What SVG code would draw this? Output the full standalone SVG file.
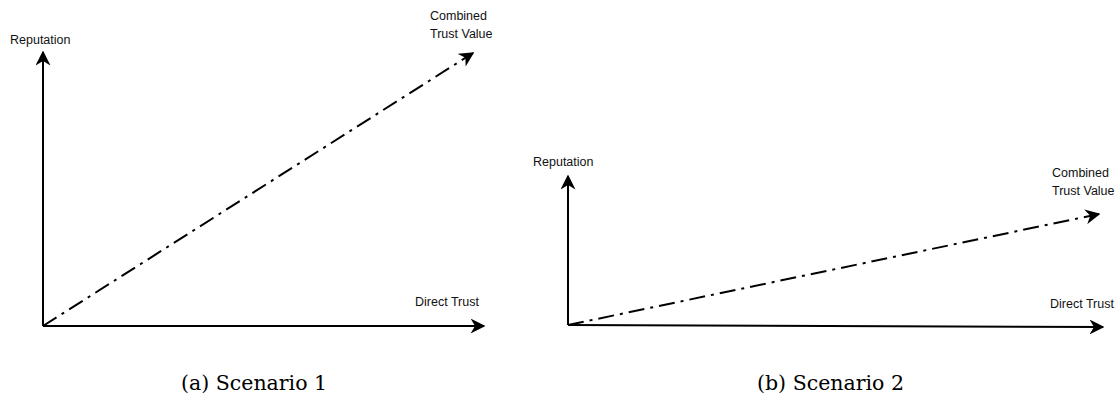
<svg xmlns="http://www.w3.org/2000/svg" width="1118" height="407" viewBox="0 0 1118 407">
  <style>
    .axis { stroke: #000; stroke-width: 2; fill: none; }
    .combo { stroke: #000; stroke-width: 2; fill: none; stroke-dasharray: 16 6 3 6; }
    .lbl { font-family: "Liberation Sans", Arial, sans-serif; font-size: 12.5px; fill: #111; }
    .cap { font-family: "DejaVu Serif", "Liberation Serif", serif; font-size: 20.5px; fill: #000; }
  </style>
  <defs>
    <marker id="head" viewBox="0 0 10 10" refX="9" refY="5" markerWidth="7.5" markerHeight="7.5" markerUnits="strokeWidth" orient="auto">
      <path d="M0,0 L10,5 L0,10 L3,5 Z" fill="#000"/>
    </marker>
  </defs>

  <!-- panel (a) -->
  <g id="panel-a">
    <g id="a-connectors">
      <line class="axis" x1="43" y1="326" x2="43" y2="52" marker-end="url(#head)"/>
      <line class="axis" x1="43" y1="326" x2="484" y2="326" marker-end="url(#head)"/>
      <line class="combo" x1="43" y1="326" x2="473" y2="53" marker-end="url(#head)"/>
    </g>
    <g id="a-reputation"><text class="lbl" x="10" y="44">Reputation</text></g>
    <g id="a-combined">
      <text class="lbl" x="430" y="20">Combined</text>
      <text class="lbl" x="430" y="38">Trust Value</text>
    </g>
    <g id="a-direct"><text class="lbl" x="415" y="306">Direct Trust</text></g>
    <g id="a-caption"><text class="cap" x="181" y="390">(a) Scenario 1</text></g>
  </g>

  <!-- panel (b) -->
  <g id="panel-b">
    <g id="b-connectors">
      <line class="axis" x1="568" y1="325" x2="568" y2="176" marker-end="url(#head)"/>
      <line class="axis" x1="568" y1="325" x2="1103" y2="327" marker-end="url(#head)"/>
      <line class="combo" x1="568" y1="325" x2="1099" y2="214" marker-end="url(#head)"/>
    </g>
    <g id="b-reputation"><text class="lbl" x="533" y="166">Reputation</text></g>
    <g id="b-combined">
      <text class="lbl" x="1052" y="177">Combined</text>
      <text class="lbl" x="1052" y="195">Trust Value</text>
    </g>
    <g id="b-direct"><text class="lbl" x="1050" y="308">Direct Trust</text></g>
    <g id="b-caption"><text class="cap" x="757" y="390">(b) Scenario 2</text></g>
  </g>
</svg>
